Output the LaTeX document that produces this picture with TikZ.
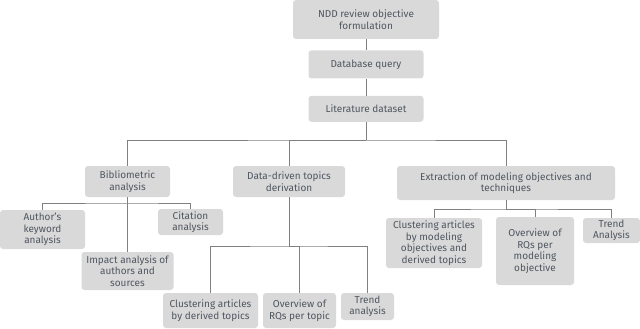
\documentclass[tikz,border=0pt]{standalone}
\usepackage{fontspec}
\setmainfont{Fira Sans}
\usetikzlibrary{positioning}
\definecolor{rvBox}{RGB}{217,217,217}
\definecolor{rvText}{RGB}{80,86,96}
\definecolor{rvLine}{RGB}{128,128,128}
\tikzset{
  rv-box/.style={fill=rvBox,rounded corners=3pt,text=rvText,align=center,
    font=\fontsize{10}{11.5}\selectfont,inner sep=1pt},
  rv-link/.style={draw=rvLine,line width=0.7pt},
}
\begin{document}
\begin{tikzpicture}[x=1pt,y=-1pt]
  \useasboundingbox (0,0) rectangle (640,329);

  % Top chain
  \node[rv-box,minimum width=146pt,minimum height=39pt] (ndd) at (366,19.5) {NDD review objective\\formulation};
  \node[rv-box,below=11pt of ndd,minimum width=115pt,minimum height=28pt] (query) {Database query};
  \node[rv-box,below=17pt of query,minimum width=115pt,minimum height=26pt] (litdata) {Literature dataset};

  % Second level
  \node[rv-box,minimum width=85pt,minimum height=31pt] (biblio) at (127.5,181.5) {Bibliometric\\analysis};
  \node[rv-box,minimum width=112pt,minimum height=31pt] (topics) at (289,181.5) {Data-driven topics\\derivation};
  \node[rv-box,minimum width=218pt,minimum height=34pt] (extract) at (506,183) {Extraction of modeling objectives and\\techniques};

  % Bibliometric branch
  \node[rv-box,minimum width=85pt,minimum height=39pt] (keyword) at (42.5,229.5) {Author's\\keyword\\analysis};
  \node[rv-box,minimum width=65pt,minimum height=26pt] (citation) at (190.5,222) {Citation\\analysis};
  \node[rv-box,minimum width=92pt,minimum height=38pt] (impact) at (127.5,271) {Impact analysis of\\authors and\\sources};

  % Topics branch
  \node[rv-box,minimum width=95pt,minimum height=35pt] (clustopic) at (210.5,310.5) {Clustering articles\\by derived topics};
  \node[rv-box,minimum width=73pt,minimum height=35pt] (rqtopic) at (299.5,310.5) {Overview of\\RQs per topic};
  \node[rv-box,minimum width=53pt,minimum height=27pt] (trendtop) at (367.5,306.5) {Trend\\analysis};

  % Extraction branch
  \node[rv-box,minimum width=96pt,minimum height=50pt] (clusmodel) at (434,243) {Clustering articles\\by modeling\\objectives and\\derived topics};
  \node[rv-box,minimum width=78pt,minimum height=68pt] (rqmodel) at (535,251) {Overview of\\RQs per\\modeling\\objective};
  \node[rv-box,minimum width=57pt,minimum height=25pt] (trendext) at (611.5,230.5) {Trend\\Analysis};

  % junctions
  \coordinate (mainbar) at (litdata.south |- 0,140);
  \coordinate (bibbar) at (biblio.south |- 0,203);
  \coordinate (topbar) at (topics.south |- 0,246);
  \coordinate (extbar) at (extract.south |- 0,209);

  % edges
  \draw[rv-link] (ndd) -- (query);
  \draw[rv-link] (query) -- (litdata);
  \draw[rv-link] (litdata) -- (mainbar);
  \draw[rv-link] (biblio.north) |- (mainbar) -| (extract.north);
  \draw[rv-link] (mainbar) -| (topics.north);
  \draw[rv-link] (biblio) -- (impact);
  \draw[rv-link] (keyword.north) |- (bibbar) -| (citation.north);
  \draw[rv-link] (topics) -- (topbar);
  \draw[rv-link] (clustopic.north) |- (topbar) -| (trendtop.north);
  \draw[rv-link] (topbar) -| (rqtopic.north);
  \draw[rv-link] (extract) -- (extbar);
  \draw[rv-link] (clusmodel.north) |- (extbar) -| (trendext.north);
  \draw[rv-link] (extbar) -| (rqmodel.north);
\end{tikzpicture}
\end{document}
